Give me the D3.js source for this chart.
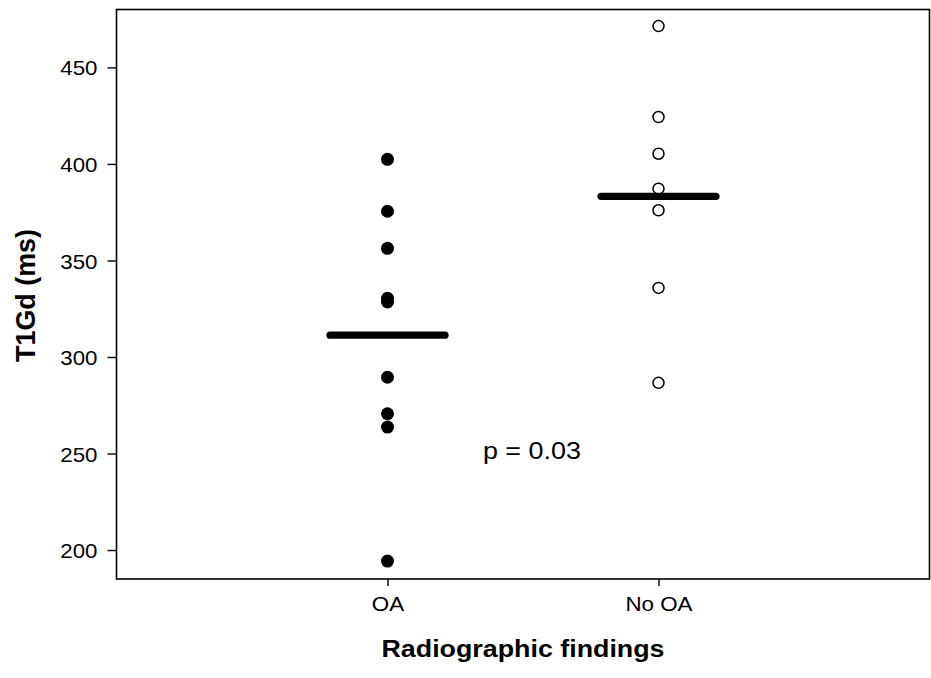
<!DOCTYPE html>
<html>
<head>
<meta charset="utf-8">
<script src="https://cdn.jsdelivr.net/npm/d3@7"></script>
<style>
  body { margin: 0; background: #fff; }
  text { font-family: "Liberation Sans", Arial, sans-serif; fill: #000; }
</style>
</head>
<body>
<div id="chart"></div>
<script>
// data
const groups = ["OA", "No OA"];
const oaValues = [402.4, 375.5, 356.3, 330.4, 328.5, 289.5, 270.6, 263.7, 194.3];
const noOaValues = [471.4, 424.3, 405.3, 387.2, 376.0, 335.8, 286.6];
const groupMeans = [311.3, 383.2];
const yTicks = [200, 250, 300, 350, 400, 450];
const pLabel = "p = 0.03";

const W = 931, H = 678;
const margin = { top: 9.5, right: 1.5, bottom: 99, left: 116.5 };
const width = W - margin.left - margin.right;
const height = H - margin.top - margin.bottom;

// categories sit at 1 and 2 on a 0..3 axis
const x = d3.scaleLinear().domain([0, 3]).range([0, width]);
const xPos = d => x(groups.indexOf(d) + 1);
const y = d3.scaleLinear().domain([185, 480]).range([height, 0]);

const svg = d3.select("#chart").append("svg")
  .attr("width", W)
  .attr("height", H);

const g = svg.append("g")
  .attr("transform", `translate(${margin.left},${margin.top})`);

// the original font runs a little wider than Arial
function widen(sel, k) {
  sel.each(function() {
    const w = this.getComputedTextLength();
    d3.select(this).attr("textLength", w * k).attr("lengthAdjust", "spacingAndGlyphs");
  });
}

// y axis
const yAxis = g.append("g")
  .call(d3.axisLeft(y).tickValues(yTicks).tickSize(9).tickPadding(10));
yAxis.attr("font-size", null).attr("font-family", null);
yAxis.select(".domain").remove();
yAxis.selectAll("line").attr("stroke", "#000").attr("stroke-width", 1.4);
yAxis.selectAll("text")
  .style("font-size", "21px")
  .attr("dy", "0.36em")
  .call(widen, 1.06);

// x axis
const xAxis = g.append("g")
  .attr("transform", `translate(0,${height})`)
  .call(d3.axisBottom(x).tickValues([1, 2]).tickFormat(d => groups[d - 1]).tickSize(7).tickPadding(9));
xAxis.attr("font-size", null).attr("font-family", null);
xAxis.select(".domain").remove();
xAxis.selectAll("line").attr("stroke", "#000").attr("stroke-width", 1.4);
xAxis.selectAll("text")
  .style("font-size", "20.5px")
  .attr("dy", "0.76em")
  .call(widen, 1.09);

// frame
g.append("rect")
  .attr("x", 0).attr("y", 0)
  .attr("width", width).attr("height", height)
  .attr("fill", "none")
  .attr("stroke", "#000")
  .attr("stroke-width", 1.6);

// mean bars
g.selectAll(".mean")
  .data(groups)
  .enter()
  .append("line")
  .attr("class", "mean")
  .attr("x1", d => x(groups.indexOf(d) + 1 - 0.212))
  .attr("x2", d => x(groups.indexOf(d) + 1 + 0.212))
  .attr("y1", (d, i) => y(groupMeans[i]))
  .attr("y2", (d, i) => y(groupMeans[i]))
  .attr("stroke", "#000")
  .attr("stroke-width", 7.3)
  .attr("stroke-linecap", "round");

// OA points (filled)
g.selectAll(".oa")
  .data(oaValues)
  .enter()
  .append("circle")
  .attr("class", "oa")
  .attr("cx", xPos("OA"))
  .attr("cy", d => y(d))
  .attr("r", 6.5)
  .attr("fill", "#000");

// No OA points (open)
g.selectAll(".nooa")
  .data(noOaValues)
  .enter()
  .append("circle")
  .attr("class", "nooa")
  .attr("cx", xPos("No OA"))
  .attr("cy", d => y(d))
  .attr("r", 5.5)
  .attr("fill", "none")
  .attr("stroke", "#000")
  .attr("stroke-width", 1.5);

// p value annotation
g.append("text")
  .attr("x", x(1.533))
  .attr("y", y(247.3))
  .attr("text-anchor", "middle")
  .style("font-size", "23px")
  .attr("textLength", 98)
  .attr("lengthAdjust", "spacingAndGlyphs")
  .text(pLabel);

// axis titles
svg.append("text")
  .attr("x", margin.left + x(1.5))
  .attr("y", 657)
  .attr("text-anchor", "middle")
  .style("font-size", "24px")
  .attr("font-weight", "bold")
  .attr("textLength", 283)
  .attr("lengthAdjust", "spacingAndGlyphs")
  .text("Radiographic findings");

svg.append("text")
  .attr("transform", "translate(35,295.5) rotate(-90)")
  .attr("text-anchor", "middle")
  .style("font-size", "27px")
  .attr("font-weight", "bold")
  .attr("textLength", 133)
  .attr("lengthAdjust", "spacingAndGlyphs")
  .text("T1Gd (ms)");
</script>
</body>
</html>
